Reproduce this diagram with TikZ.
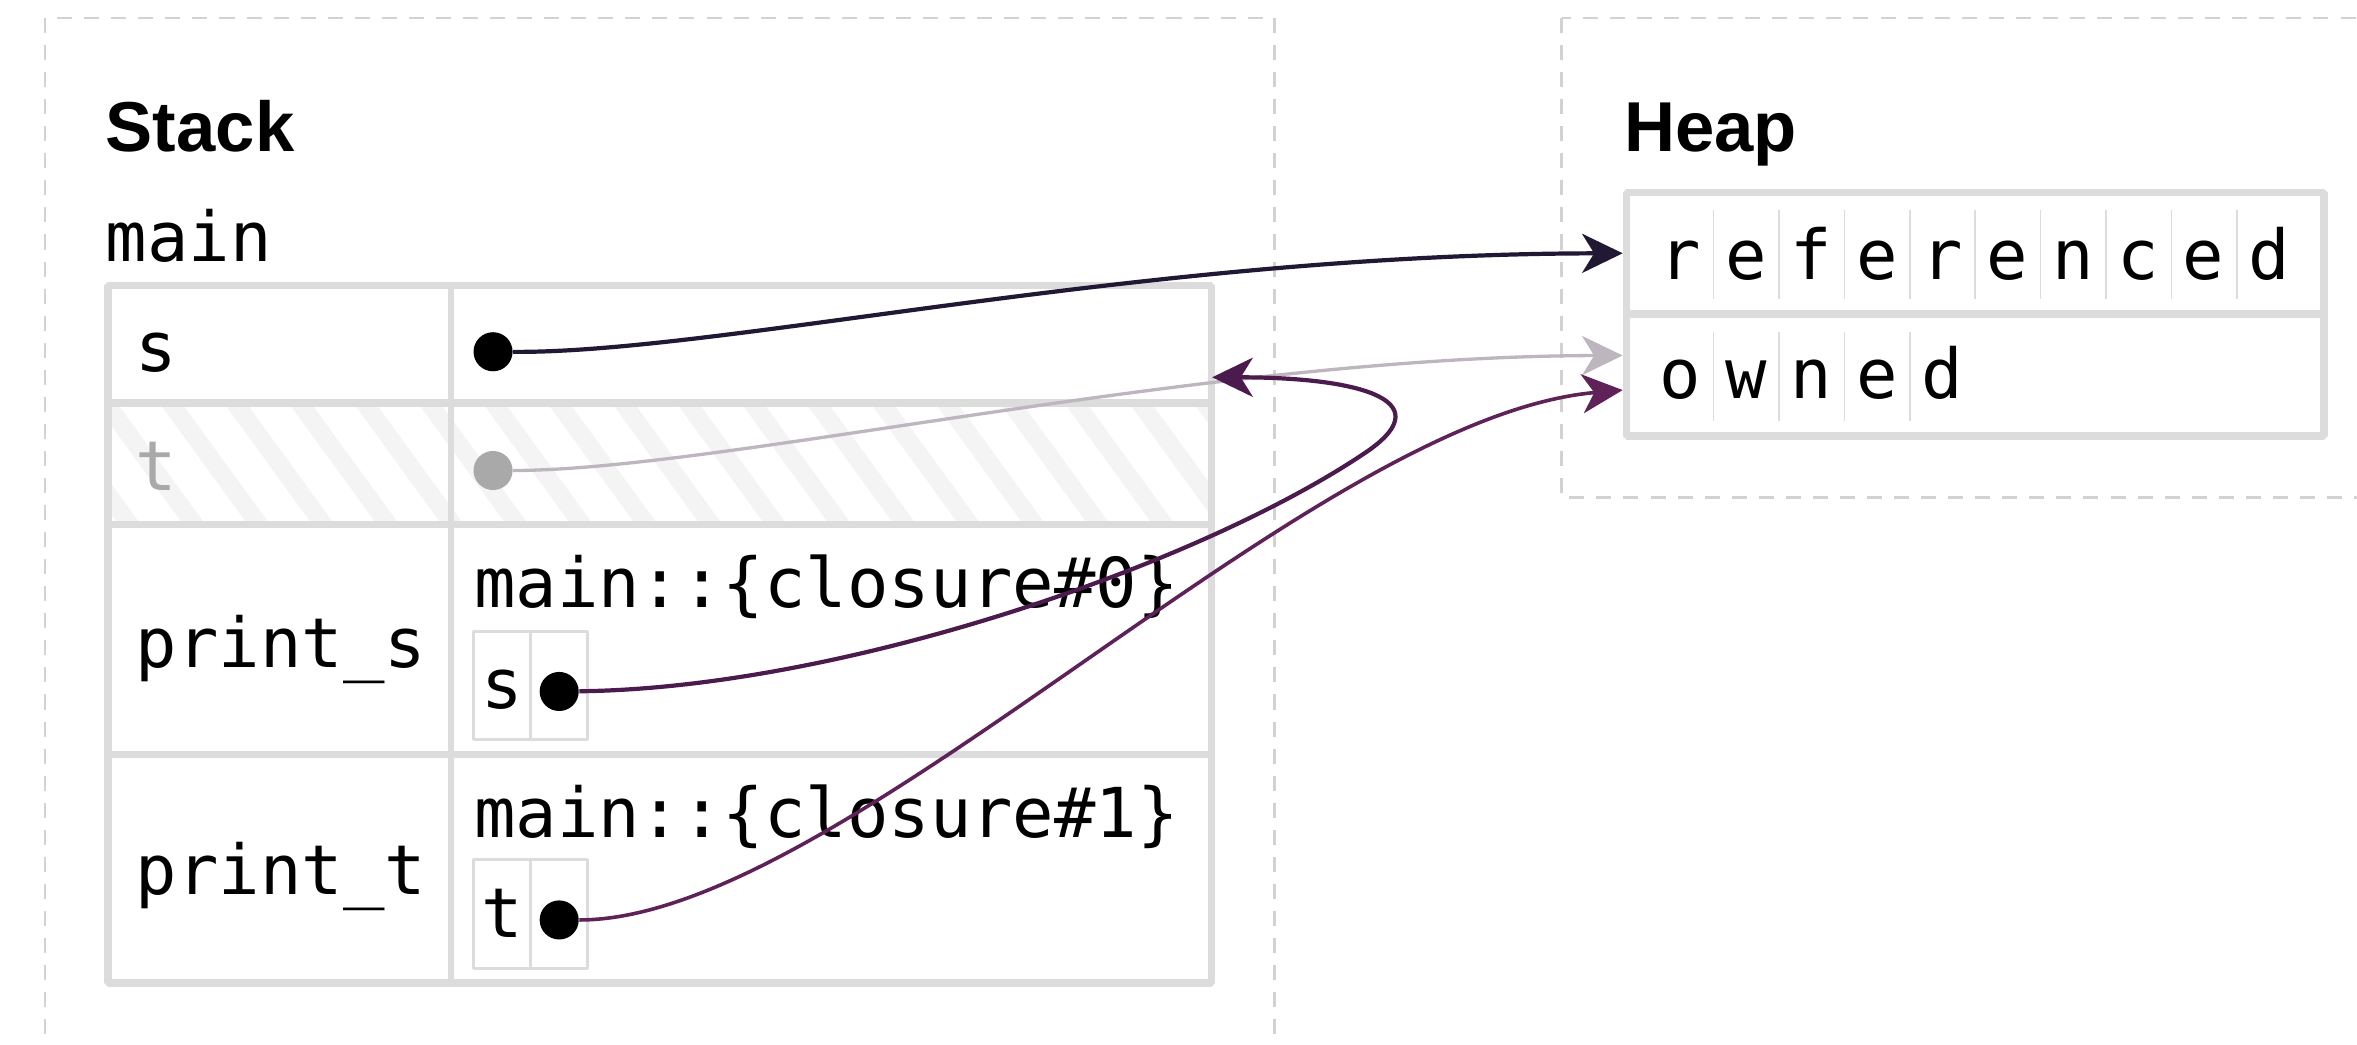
\documentclass[tikz,border=0pt]{standalone}
\usepackage{fontspec}
\setmainfont{Liberation Sans}
\setmonofont{DejaVu Sans Mono}
\usetikzlibrary{arrows.meta,calc}

\definecolor{tblgray}{HTML}{DCDCDC}
\definecolor{dashgray}{HTML}{D2D2D2}
\definecolor{hatchgray}{HTML}{F4F4F4}
\definecolor{movedgray}{HTML}{A9A9A9}
\definecolor{refcol}{HTML}{211833}
\definecolor{movedcol}{HTML}{BDB6BE}
\definecolor{closzero}{HTML}{4A1B4C}
\definecolor{closone}{HTML}{5E2259}

\begin{document}
\begin{tikzpicture}[x=0.5pt,y=-0.5pt,line join=bevel,
  frame/.style={draw=dashgray,line width=0.9pt,dash pattern=on 5pt off 4pt},
  tbl/.style={draw=tblgray,line width=2.5pt},
  thin/.style={draw=tblgray,line width=0.5pt},
  code/.style={font=\ttfamily\fontsize{22.9}{28}\selectfont,inner sep=0pt},
  title/.style={font=\bfseries\fontsize{23.5}{28}\selectfont,inner sep=0pt},
  ptr/.style={circle,fill=black,inner sep=0pt,minimum size=13pt},
  link/.style={-{Stealth[length=13.5pt,width=13pt,inset=4pt]},line width=1.2pt},
]
\useasboundingbox (0,0) rectangle (1568,695);
\clip (0,0) rectangle (1568,695);
%%
\draw [frame] (30,12) rectangle (848,760);
\draw [frame] (1039,12) rectangle (1650,331);
\node (lbl_stack) at (70,101) [title,anchor=base west] {Stack};
\node (lbl_heap) at (1080,101) [title,anchor=base west] {Heap};
\node (lbl_main) at (70,174) [code,anchor=base west] {main};
%
% moved-out slot
\begin{scope}
  \clip (72,268) rectangle (806,349);
  \foreach \x in {-20,23,...,860}
    \draw [hatchgray,line width=6pt] (\x,262) -- ++(64,88);
\end{scope}
\draw [tbl] (72,190) rectangle (806,654);
\draw [tbl] (72,268) -- (806,268);
\draw [tbl] (72,349) -- (806,349);
\draw [tbl] (72,502) -- (806,502);
\draw [tbl,line width=1.8pt] (300,190) -- (300,654);
\node (slot_s) at (553,229) [minimum width=253pt,minimum height=39pt] {};
%
\node (var_s) at (90,247) [code,anchor=base west] {s};
\node (var_t) at (90,326) [code,anchor=base west,text=movedgray] {t};
\node (var_print_s) at (90,444) [code,anchor=base west] {print\_s};
\node (var_print_t) at (90,595) [code,anchor=base west] {print\_t};
\node (ptr_s) at (328,234) [ptr] {};
\node (ptr_t) at (328,313) [ptr,fill=movedgray] {};
%
\node (clos_0) at (315,404) [code,anchor=base west] {main::\{closure\#0\}};
\draw [tbl,line width=1pt] (315,420) rectangle (391,492);
\draw [tbl,line width=1pt] (353,420) -- (353,492);
\node (cap_s) at (334,471) [code,anchor=base] {s};
\node (ptr_cs) at (372,460) [ptr] {};
\node (clos_1) at (315,557) [code,anchor=base west] {main::\{closure\#1\}};
\draw [tbl,line width=1pt] (315,572) rectangle (391,644);
\draw [tbl,line width=1pt] (353,572) -- (353,644);
\node (cap_t) at (334,624) [code,anchor=base] {t};
\node (ptr_ct) at (372,612) [ptr] {};
%
% heap strings
\node (heap_ref) at (1314,168.5) [tbl,minimum width=232pt,minimum height=40.5pt] {};
\node (heap_own) at (1314,249.5) [tbl,minimum width=232pt,minimum height=40.5pt] {};
\foreach \c [count=\i from 0] in {r,e,f,e,r,e,n,c,e,d}
  \node (ref_\i) at ({1118+43.5*\i},186) [code,anchor=base] {\c};
\foreach \k in {1,...,9}
  \draw [thin] ({1096.5+43.5*\k},140) -- ({1096.5+43.5*\k},199);
\foreach \c [count=\i from 0] in {o,w,n,e,d}
  \node (own_\i) at ({1118+43.5*\i},265) [code,anchor=base] {\c};
\foreach \k in {1,...,4}
  \draw [thin] ({1096.5+43.5*\k},221) -- ({1096.5+43.5*\k},280);
%
\draw [link,refcol,line width=1.4pt] (ptr_s) ..controls (480,235) and (760,169) .. (heap_ref.west);
\draw [link,movedcol,line width=1.1pt] (ptr_t) ..controls (480,313) and (800,237) .. ($(heap_own.west)+(0,-13)$);
\draw [link,closzero,line width=1.4pt] (ptr_cs) ..controls (560,458) and (800,375) .. (910,300)
  ..controls (960,265) and (900,251) .. ($(slot_s.east)+(0,22)$);
\draw [link,closone] (ptr_ct) ..controls (560,612) and (870,278) .. ($(heap_own.west)+(0,10)$);
%
\end{tikzpicture}
\end{document}
